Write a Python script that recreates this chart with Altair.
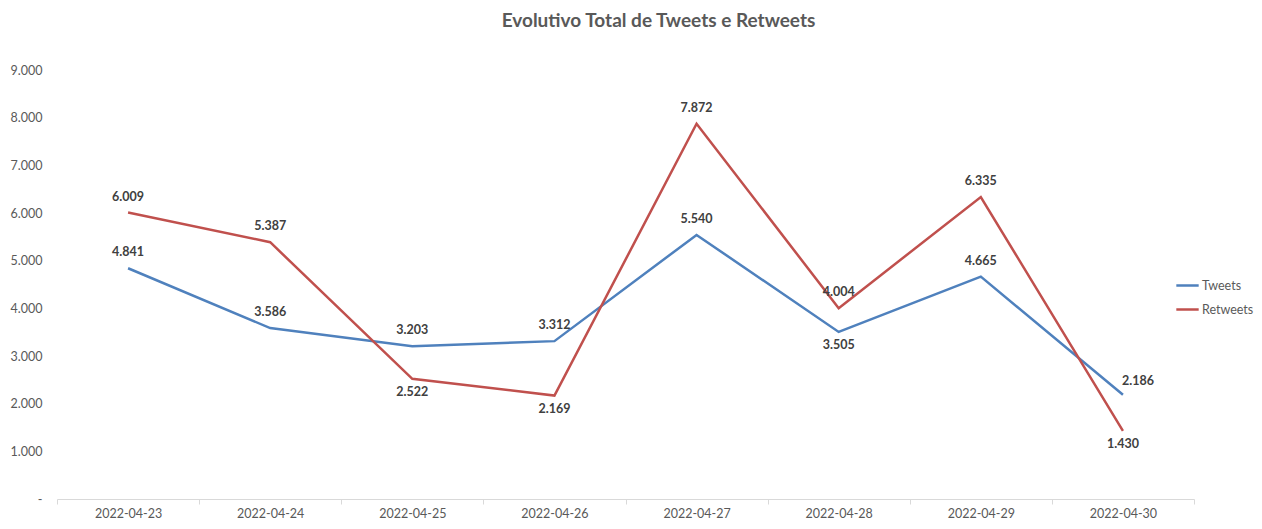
import altair as alt
import pandas as pd

dates = ["2022-04-23", "2022-04-24", "2022-04-25", "2022-04-26",
         "2022-04-27", "2022-04-28", "2022-04-29", "2022-04-30"]
tweets = [4841, 3586, 3203, 3312, 5540, 3505, 4665, 2186]
retweets = [6009, 5387, 2522, 2169, 7872, 4004, 6335, 1430]
tweets_label_side = ["above", "above", "above", "above", "above", "below", "above", "right"]
retweets_label_side = ["above", "above", "below", "below", "above", "above", "above", "below"]
series_names = ["Tweets", "Retweets"]
series_colors = ["#4F81BD", "#C0504D"]
y_ticks = [0, 1000, 2000, 3000, 4000, 5000, 6000, 7000, 8000, 9000]
title_text = "Evolutivo Total de Tweets e Retweets"

rows = []
for name, vals, sides in [(series_names[0], tweets, tweets_label_side),
                          (series_names[1], retweets, retweets_label_side)]:
    for d, v, s in zip(dates, vals, sides):
        rows.append({"date": d, "series": name, "value": v, "side": s})
df = pd.DataFrame(rows)

FONT = "Lato"

x_enc = alt.X(
    "date:N",
    bandPosition=0.5,
    scale=alt.Scale(type="band", domain=dates, paddingInner=0, paddingOuter=0),
    axis=alt.Axis(
        title=None, labelAngle=0, tickBand="extent", domainColor="#d9d9d9",
        tickColor="#d9d9d9", tickSize=5, labelColor="#595959", labelFontSize=12.5,
        labelFont=FONT, labelPadding=3, grid=False,
    ),
)
y_enc = alt.Y(
    "value:Q",
    scale=alt.Scale(domain=[0, 9000], nice=False),
    axis=alt.Axis(
        title=None, values=y_ticks, domain=False, ticks=False, grid=False,
        labelColor="#595959", labelFontSize=12.5, labelFont=FONT, labelPadding=15,
        labelExpr="datum.value == 0 ? '-' : replace(format(datum.value, ','), ',', '.')",
    ),
)
color_enc = alt.Color(
    "series:N",
    scale=alt.Scale(domain=series_names, range=series_colors),
    legend=alt.Legend(
        title=None, orient="none", legendX=1118, legendY=203,
        symbolType="stroke", symbolStrokeWidth=2.5, symbolSize=500,
        labelFont=FONT, labelFontSize=12.5, labelColor="#595959",
        rowPadding=5, labelOffset=2, padding=0,
    ),
)

base = alt.Chart(df).encode(x=x_enc, y=y_enc)

lines = base.mark_line(strokeWidth=2.5).encode(color=color_enc)

lab = base.transform_calculate(
    label="replace(format(datum.value, ','), ',', '.')"
)
text_style = dict(font=FONT, fontSize=12.5, fontWeight="bold", color="#404040")
above = lab.transform_filter("datum.side == 'above'").mark_text(dy=-16, **text_style).encode(text="label:N")
below = lab.transform_filter("datum.side == 'below'").mark_text(dy=13, **text_style).encode(text="label:N")
right = lab.transform_filter("datum.side == 'right'").mark_text(dx=15, dy=-14, **text_style).encode(text="label:N")

chart = alt.layer(lines, above, below, right).properties(
    width=1137,
    height=429,
    title=alt.TitleParams(
        title_text, font=FONT, fontSize=19, fontWeight="bold", color="#595959",
        anchor="middle", dx=33, offset=33,
    ),
    autosize=alt.AutoSizeParams(type="none"),
    padding={"left": 49, "top": 62, "right": 60, "bottom": 22},
).configure_view(stroke=None)

chart.save("out.html", embed_options={"renderer": "svg", "actions": False})
